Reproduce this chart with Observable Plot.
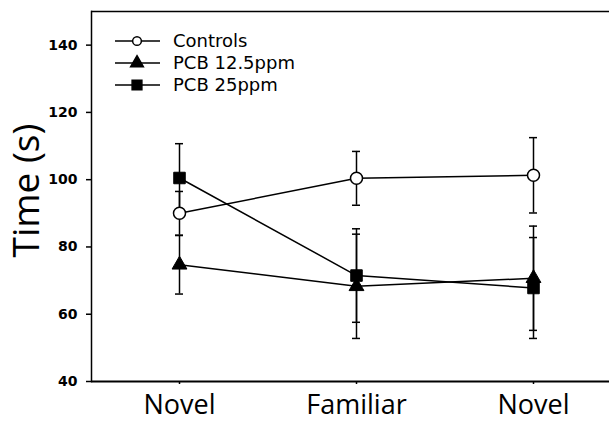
<!DOCTYPE html>
<html>
<head>
<meta charset="utf-8">
<script src="https://cdn.jsdelivr.net/npm/d3@7"></script>
<script src="https://cdn.jsdelivr.net/npm/@observablehq/plot@0.6"></script>
<style>
  html, body { margin: 0; padding: 0; background: white; }
  #wrap { position: relative; width: 609px; height: 421px; }
  #legend { position: absolute; left: 0; top: 0; pointer-events: none; }
</style>
</head>
<body>
<div id="wrap"></div>
<script>
// ---- data ----
const categories = ["Novel1", "Familiar", "Novel2"];
const tickLabels = ["Novel", "Familiar", "Novel"];
const seriesNames = ["Controls", "PCB 12.5ppm", "PCB 25ppm"];
const seriesSymbols = ["circle", "triangle", "square"];
const controlsMean = [90.0, 100.4, 101.3];
const controlsErr = [6.5, 8.0, 11.2];
const pcb125Mean = [74.7, 68.3, 70.7];
const pcb125Err = [8.7, 15.5, 15.5];
const pcb25Mean = [100.5, 71.5, 67.8];
const pcb25Err = [10.2, 13.9, 15.0];
const yTicks = [40, 60, 80, 100, 120, 140];

const means = [controlsMean, pcb125Mean, pcb25Mean];
const errs = [controlsErr, pcb125Err, pcb25Err];
const rows = [];
seriesNames.forEach((s, si) => {
  categories.forEach((c, ci) => {
    rows.push({series: s, symbol: seriesSymbols[si], cat: c, mean: means[si][ci],
      lo: means[si][ci] - errs[si][ci], hi: means[si][ci] + errs[si][ci]});
  });
});
const bySeries = s => rows.filter(d => d.series === s);

const chart = Plot.plot({
  width: 609,
  height: 421,
  marginLeft: 91,
  marginRight: 0,
  marginTop: 11,
  marginBottom: 40,
  style: {background: "white", color: "black"},
  x: {type: "point", domain: categories, range: [179, 533], padding: 0},
  y: {domain: [40, 150]},
  marks: [
    Plot.ruleY([40], {stroke: "black", strokeWidth: 2}),
    Plot.ruleY([150], {stroke: "black", strokeWidth: 1.5}),
    Plot.frame({anchor: "left", stroke: "black", strokeWidth: 1.5}),
    Plot.axisY({ticks: yTicks, tickSize: 5, tickPadding: 9, fontSize: 14, fontWeight: "bold",
      fontFamily: "DejaVu Sans", label: null, strokeWidth: 1.5}),
    Plot.axisX({tickSize: 3, tickPadding: 10, tickFormat: (d) => tickLabels[categories.indexOf(d)],
      fontSize: 27, fontFamily: "Open Sans", label: null, strokeWidth: 1.5}),
    Plot.text(["Time (s)"], {frameAnchor: "left", rotate: -90, dx: -64, dy: -6, fontSize: 37,
      fontFamily: "Open Sans", fill: "black", textAnchor: "middle"}),
    // connecting lines
    ...seriesNames.map(s => Plot.line(bySeries(s), {x: "cat", y: "mean", stroke: "black", strokeWidth: 1.5})),
    // error bars
    Plot.ruleX(rows, {x: "cat", y1: "lo", y2: "hi", stroke: "black", strokeWidth: 1.5}),
    Plot.ruleY(rows, {x1: "cat", x2: "cat", y: "lo", insetLeft: -4, insetRight: -4, stroke: "black", strokeWidth: 1.5}),
    Plot.ruleY(rows, {x1: "cat", x2: "cat", y: "hi", insetLeft: -4, insetRight: -4, stroke: "black", strokeWidth: 1.5}),
    // markers
    Plot.dot(bySeries("Controls"), {x: "cat", y: "mean", symbol: "circle", r: 6, fill: "white", stroke: "black", strokeWidth: 1.5}),
    Plot.dot(bySeries("PCB 12.5ppm"), {x: "cat", y: "mean", symbol: "triangle", r: 5.5, fill: "black", stroke: "black", strokeWidth: 1}),
    Plot.dot(bySeries("PCB 25ppm"), {x: "cat", y: "mean", symbol: "square", r: 6.5, fill: "black", stroke: "black", strokeWidth: 1})
  ]
});

const wrap = document.getElementById("wrap");
wrap.appendChild(chart);

// legend overlay (inside plot area, top-left)
const svg = d3.select(wrap).append("svg").attr("id", "legend").attr("width", 609).attr("height", 421);
const symType = {circle: d3.symbolCircle, triangle: d3.symbolTriangle, square: d3.symbolSquare};
seriesNames.forEach((s, i) => {
  const y = 41 + i * 22;
  const g = svg.append("g").attr("transform", `translate(0,${y})`);
  g.append("line").attr("x1", 115).attr("x2", 160).attr("y1", 0).attr("y2", 0)
    .attr("stroke", "black").attr("stroke-width", 1.5);
  const sym = seriesSymbols[i];
  g.append("path").attr("transform", "translate(137,0)")
    .attr("d", d3.symbol(symType[sym], sym === "circle" ? 60 : sym === "triangle" ? 70 : 95)())
    .attr("fill", sym === "circle" ? "white" : "black").attr("stroke", "black").attr("stroke-width", 1.5);
  g.append("text").attr("x", 173).attr("y", 0).attr("dy", "0.36em")
    .attr("font-family", "DejaVu Sans").attr("font-size", 18).attr("fill", "black").text(s);
});
</script>
</body>
</html>
